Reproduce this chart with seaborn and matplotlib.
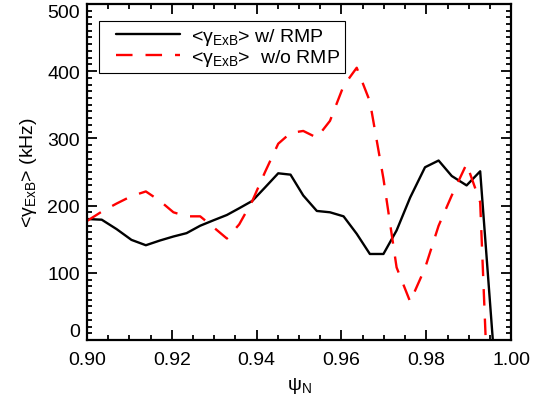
import numpy as np
import pandas as pd
import matplotlib
matplotlib.use("Agg")
import matplotlib.pyplot as plt
from matplotlib.ticker import MultipleLocator
from matplotlib.lines import Line2D
from matplotlib.legend_handler import HandlerLine2D
import seaborn as sns

# Normalized poloidal flux grid
psi_n = [0.900, 0.9035, 0.907, 0.9105, 0.9139, 0.9172, 0.9204, 0.9235, 0.9267, 0.9298,
         0.933, 0.9359, 0.939, 0.942, 0.9451, 0.948, 0.951, 0.9542, 0.9573, 0.9605,
         0.9636, 0.9667, 0.9699, 0.973, 0.9762, 0.9797, 0.9829, 0.986, 0.9895, 0.9927,
         0.9958]

# ExB shearing rate (kHz) with and without RMP
gamma_rmp = [180, 179, 165, 149, 141, 148, 154, 159, 170, 178,
             186, 196, 207, 227, 248, 246, 215, 192, 190, 184,
             158, 128, 128, 163, 212, 257, 267, 244, 230, 251,
             -10]
gamma_no_rmp = [177, 191, 203, 214, 221, 207, 190, 184, 184, 168,
                151, 172, 207, 250, 292, 308, 311, 301, 326, 378,
                405, 355, 240, 108, 57, 107, 170, 215, 262, 205,
                -280]

series_labels = [r"<$\mathrm{γ}_{\mathrm{ExB}}$> w/ RMP",
                 r"<$\mathrm{γ}_{\mathrm{ExB}}$>  w/o RMP"]
x_ticks = [0.90, 0.92, 0.94, 0.96, 0.98, 1.00]
y_ticks = [0, 100, 200, 300, 400, 500]

sns.set_style("ticks")
plt.rcParams["font.family"] = ["Liberation Sans", "DejaVu Sans"]
plt.rcParams["mathtext.fontset"] = "custom"
plt.rcParams["mathtext.rm"] = "Liberation Sans"
plt.rcParams["mathtext.it"] = "Liberation Sans:italic"
plt.rcParams["mathtext.bf"] = "Liberation Sans:bold"
plt.rcParams["text.color"] = "black"
plt.rcParams["axes.labelcolor"] = "black"

fig = plt.figure(figsize=(5.33, 4.06), dpi=100)
ax = fig.add_axes([0.163, 0.160, 0.796, 0.828])

df = pd.DataFrame({"psi": psi_n, "rmp": gamma_rmp, "norm": gamma_no_rmp})

sns.lineplot(data=df, x="psi", y="rmp", ax=ax, color="black", lw=1.7,
             label=series_labels[0])
sns.lineplot(data=df, x="psi", y="norm", ax=ax, color="red", lw=1.7,
             linestyle=(0, (7, 5.5)), label=series_labels[1])

ax.set_xlim(0.90, 1.00)
ax.set_ylim(0, 500)
ax.set_xticks(x_ticks)
ax.set_xticklabels([f"{t:.2f}" for t in x_ticks])
ax.set_yticks(y_ticks)
ax.set_yticklabels([str(t) for t in y_ticks])
ax.xaxis.set_minor_locator(MultipleLocator(0.005))
ax.yaxis.set_minor_locator(MultipleLocator(10))
ax.tick_params(which="both", direction="in", top=True, right=True,
               labelsize=14, colors="black", width=1.3)
ax.tick_params(which="major", length=7)
ax.tick_params(which="minor", length=3.5)
ax.tick_params(axis="x", which="major", pad=8)
ax.tick_params(axis="y", which="major", pad=5)
# keep the end labels of the y axis inside the frame height
ylabels = ax.get_yticklabels()
ylabels[0].set_va("bottom")
ylabels[-1].set_va("top")
for sp in ax.spines.values():
    sp.set_linewidth(1.6)
    sp.set_color("black")

ax.set_xlabel(r"$\mathrm{ψ}_{\mathrm{N}}$", fontsize=14, labelpad=5)
ax.set_ylabel(r"<$\mathrm{γ}_{\mathrm{ExB}}$> (kHz)", fontsize=14, labelpad=6)

leg = ax.legend(loc="upper left", bbox_to_anchor=(0.028, 0.949), fontsize=14,
                frameon=True, fancybox=False, framealpha=1, edgecolor="black",
                handlelength=3.95, handletextpad=0.55, labelspacing=0.0,
                borderpad=0.25, borderaxespad=0,
                handler_map={Line2D: HandlerLine2D(xpad=0.65)})
leg.get_frame().set_linewidth(0.8)

fig.savefig("out.png", dpi=100)
